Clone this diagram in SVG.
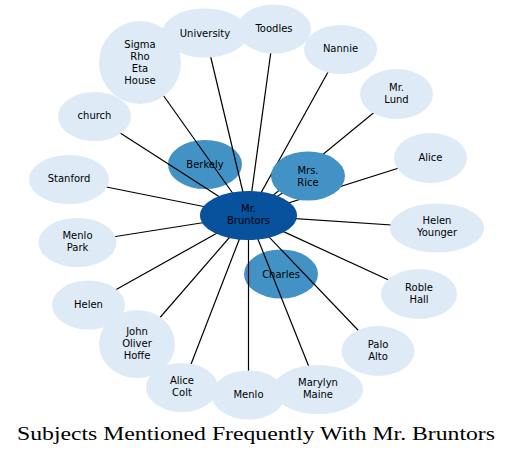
<svg xmlns="http://www.w3.org/2000/svg" width="513" height="456" viewBox="0 0 513 456">
<style>
.light{fill:#deebf7}
.mid{fill:#4292c6}
.dark{fill:#08519c}
text{font-family:"DejaVu Sans",sans-serif;font-size:10px;fill:#000;text-anchor:middle;dominant-baseline:central}
.title{font-family:"Liberation Serif","Times New Roman",serif;font-size:19px;dominant-baseline:alphabetic}
#edges line{stroke:#000;stroke-width:1.2}
</style>
<rect width="513" height="456" fill="#fff"/>
<g id="n-berkely"><ellipse class="mid" cx="205" cy="164.5" rx="37" ry="24.5"/><text x="205" y="164.5">Berkely</text></g>
<g id="n-charles"><ellipse class="mid" cx="281" cy="274" rx="37" ry="24.5"/><text x="281" y="274">Charles</text></g>
<g id="edges">
<line x1="248.5" y1="215.5" x2="140" y2="62.5"/>
<line x1="248.5" y1="215.5" x2="205" y2="33"/>
<line x1="248.5" y1="215.5" x2="274" y2="29"/>
<line x1="248.5" y1="215.5" x2="340.5" y2="49.5"/>
<line x1="248.5" y1="215.5" x2="396.5" y2="94"/>
<line x1="248.5" y1="215.5" x2="430.5" y2="158"/>
<line x1="248.5" y1="215.5" x2="437" y2="228"/>
<line x1="248.5" y1="215.5" x2="419" y2="294"/>
<line x1="248.5" y1="215.5" x2="378" y2="351"/>
<line x1="248.5" y1="215.5" x2="318" y2="389.5"/>
<line x1="248.5" y1="215.5" x2="248.5" y2="395"/>
<line x1="248.5" y1="215.5" x2="182" y2="387.5"/>
<line x1="248.5" y1="215.5" x2="137" y2="344"/>
<line x1="248.5" y1="215.5" x2="88.5" y2="305"/>
<line x1="248.5" y1="215.5" x2="77.5" y2="242.5"/>
<line x1="248.5" y1="215.5" x2="69" y2="179.5"/>
<line x1="248.5" y1="215.5" x2="94.5" y2="116.5"/>
<line x1="248.5" y1="215.5" x2="308" y2="176"/>
</g>
<g id="n-mrsrice"><ellipse class="mid" cx="308" cy="176" rx="37" ry="24.5"/><text x="308" y="170">Mrs.</text><text x="308" y="182">Rice</text></g>
<g id="n-sigma"><ellipse class="light" cx="140" cy="62.5" rx="41" ry="41.5"/><text x="140" y="44.5">Sigma</text><text x="140" y="56.5">Rho</text><text x="140" y="68.5">Eta</text><text x="140" y="80.5">House</text></g>
<g id="n-university"><ellipse class="light" cx="205" cy="33" rx="43" ry="24.5"/><text x="205" y="33">University</text></g>
<g id="n-toodles"><ellipse class="light" cx="274" cy="29" rx="37" ry="24.5"/><text x="274" y="28">Toodles</text></g>
<g id="n-nannie"><ellipse class="light" cx="340.5" cy="49.5" rx="36.5" ry="24.5"/><text x="340.5" y="48.5">Nannie</text></g>
<g id="n-mrlund"><ellipse class="light" cx="396.5" cy="94" rx="36.5" ry="25"/><text x="396.5" y="87">Mr.</text><text x="396.5" y="99">Lund</text></g>
<g id="n-alice"><ellipse class="light" cx="430.5" cy="158" rx="36.5" ry="25"/><text x="430.5" y="157">Alice</text></g>
<g id="n-helenyounger"><ellipse class="light" cx="437" cy="228" rx="47" ry="24.5"/><text x="437" y="220">Helen</text><text x="437" y="232">Younger</text></g>
<g id="n-roblehall"><ellipse class="light" cx="419" cy="294" rx="38" ry="25"/><text x="419" y="287">Roble</text><text x="419" y="299">Hall</text></g>
<g id="n-paloalto"><ellipse class="light" cx="378" cy="351" rx="36.5" ry="25"/><text x="378" y="344">Palo</text><text x="378" y="356">Alto</text></g>
<g id="n-marylyn"><ellipse class="light" cx="318" cy="389.5" rx="45" ry="24.5"/><text x="318" y="382.5">Marylyn</text><text x="318" y="394.5">Maine</text></g>
<g id="n-menlo"><ellipse class="light" cx="248.5" cy="395" rx="36.5" ry="24.5"/><text x="248.5" y="394.5">Menlo</text></g>
<g id="n-alicecolt"><ellipse class="light" cx="182" cy="387.5" rx="36" ry="24.5"/><text x="182" y="380.5">Alice</text><text x="182" y="392.5">Colt</text></g>
<g id="n-john"><ellipse class="light" cx="137" cy="344" rx="38" ry="34"/><text x="137" y="331">John</text><text x="137" y="343">Oliver</text><text x="137" y="355">Hoffe</text></g>
<g id="n-helen"><ellipse class="light" cx="88.5" cy="305" rx="36.5" ry="24.5"/><text x="88.5" y="304">Helen</text></g>
<g id="n-menlopark"><ellipse class="light" cx="77.5" cy="242.5" rx="39" ry="24.5"/><text x="77.5" y="235.5">Menlo</text><text x="77.5" y="247.5">Park</text></g>
<g id="n-stanford"><ellipse class="light" cx="69" cy="179.5" rx="40" ry="24.5"/><text x="69" y="178.5">Stanford</text></g>
<g id="n-church"><ellipse class="light" cx="94.5" cy="116.5" rx="36.5" ry="24.5"/><text x="94.5" y="115.5">church</text></g>
<g id="n-center"><ellipse class="dark" cx="248.5" cy="215.5" rx="48.5" ry="24.5"/><text x="248.5" y="208.5">Mr.</text><text x="248.5" y="220.5">Bruntors</text></g>
<text class="title" x="256" y="440" textLength="478" lengthAdjust="spacingAndGlyphs">Subjects Mentioned Frequently With Mr. Bruntors</text>
</svg>
